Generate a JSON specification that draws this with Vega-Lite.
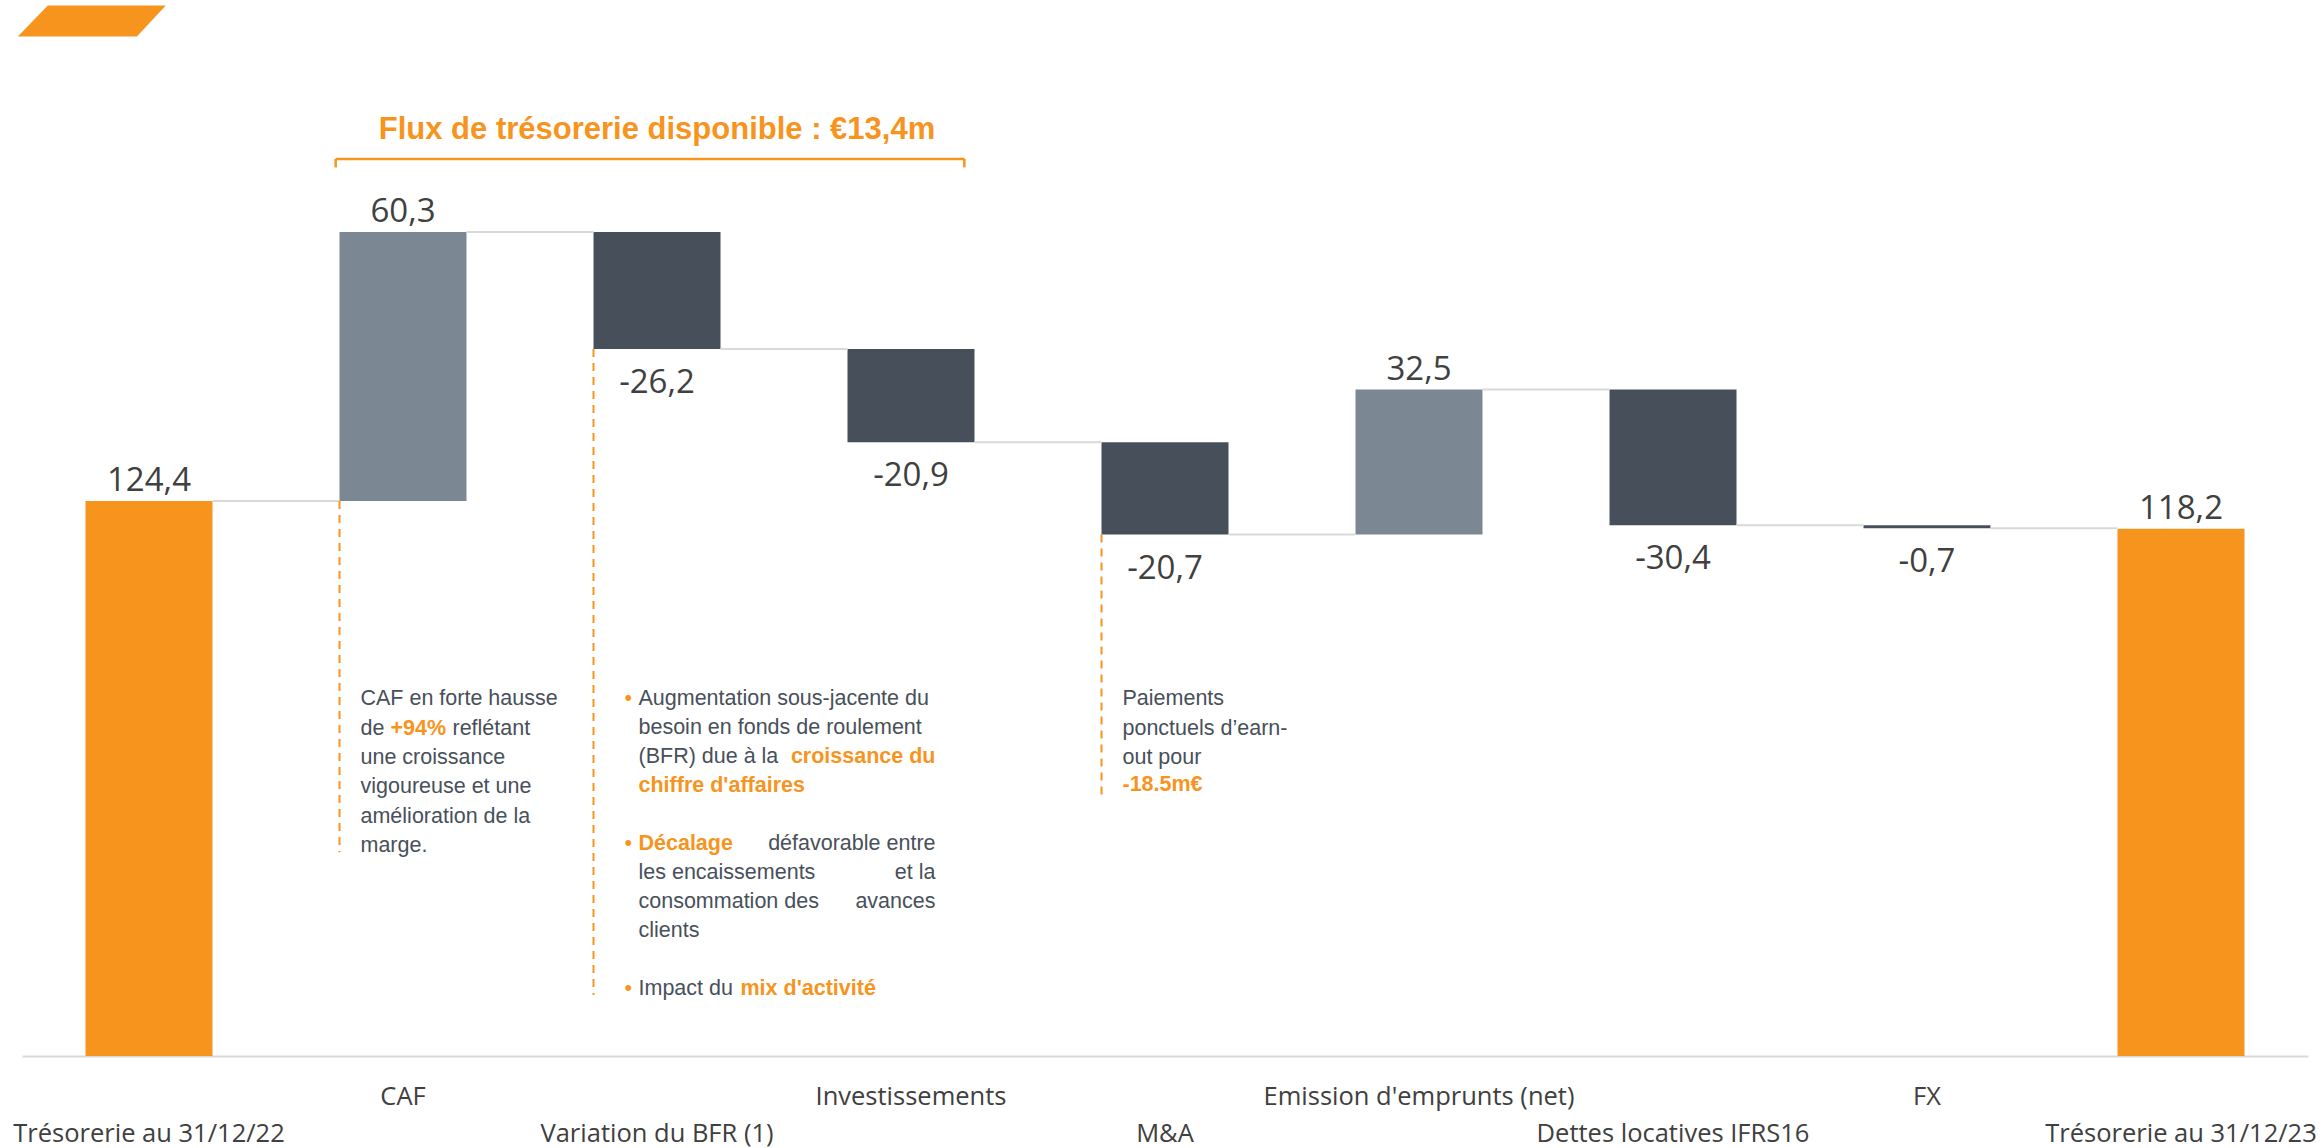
{
  "$schema": "https://vega.github.io/schema/vega-lite/v6.json",
  "width": 2286,
  "height": 1026,
  "autosize": {"type": "none"},
  "padding": {"left": 22, "top": 30, "right": 15, "bottom": 92},
  "background": "white",
  "config": {"view": {"stroke": null}},
  "datasets": {
    "flow": [
      {"cat": "Trésorerie au 31/12/22", "start": 0, "end": 124.4, "kind": "total", "label": "124,4", "next": "CAF"},
      {"cat": "CAF", "start": 124.4, "end": 184.7, "kind": "up", "label": "60,3", "next": "Variation du BFR (1)"},
      {"cat": "Variation du BFR (1)", "start": 184.7, "end": 158.5, "kind": "down", "label": "-26,2", "next": "Investissements"},
      {"cat": "Investissements", "start": 158.5, "end": 137.6, "kind": "down", "label": "-20,9", "next": "M&A"},
      {"cat": "M&A", "start": 137.6, "end": 116.9, "kind": "down", "label": "-20,7", "next": "Emission d'emprunts (net)"},
      {"cat": "Emission d'emprunts (net)", "start": 116.9, "end": 149.4, "kind": "up", "label": "32,5", "next": "Dettes locatives IFRS16"},
      {"cat": "Dettes locatives IFRS16", "start": 149.4, "end": 119.0, "kind": "down", "label": "-30,4", "next": "FX"},
      {"cat": "FX", "start": 119.0, "end": 118.3, "kind": "down", "label": "-0,7", "next": "Trésorerie au 31/12/23"},
      {"cat": "Trésorerie au 31/12/23", "start": 0, "end": 118.2, "kind": "total", "label": "118,2", "next": null}
    ],
    "leaders": [
      {"anchor": "CAF", "from": 124.4, "to": 45.7},
      {"anchor": "Variation du BFR (1)", "from": 158.5, "to": 13.7},
      {"anchor": "M&A", "from": 116.9, "to": 57.4}
    ],
    "notes": [
      {"anchor": "CAF", "piece": "g21", "lines": ["CAF en forte hausse", "de", "une croissance", "vigoureuse et une", "amélioration de la", "marge."]},
      {"anchor": "CAF", "piece": "o94", "lines": "+94%"},
      {"anchor": "CAF", "piece": "gref", "lines": "reflétant"},
      {"anchor": "M&A", "piece": "g21", "lines": ["Paiements", "ponctuels d’earn-", "out pour"]},
      {"anchor": "M&A", "piece": "o185", "lines": "-18.5m€"},
      {"anchor": "Variation du BFR (1)", "piece": "b0", "lines": "•"},
      {"anchor": "Variation du BFR (1)", "piece": "b5", "lines": "•"},
      {"anchor": "Variation du BFR (1)", "piece": "b10", "lines": "•"},
      {"anchor": "Variation du BFR (1)", "piece": "g45a", "lines": ["Augmentation sous-jacente du", "besoin en fonds de roulement", "(BFR) due à la"]},
      {"anchor": "Variation du BFR (1)", "piece": "g45b", "lines": ["les encaissements", "consommation des", "clients"]},
      {"anchor": "Variation du BFR (1)", "piece": "g45c", "lines": "Impact du"},
      {"anchor": "Variation du BFR (1)", "piece": "oR2", "lines": "croissance du"},
      {"anchor": "Variation du BFR (1)", "piece": "o45a", "lines": "chiffre d'affaires"},
      {"anchor": "Variation du BFR (1)", "piece": "o45b", "lines": "Décalage"},
      {"anchor": "Variation du BFR (1)", "piece": "gR5", "lines": ["défavorable entre", "et la", "avances"]},
      {"anchor": "Variation du BFR (1)", "piece": "omix", "lines": "mix d'activité"}
    ]
  },
  "layer": [
    {
      "data": {"name": "flow"},
      "mark": {"type": "bar"},
      "encoding": {
        "x": {
          "field": "cat", "type": "nominal", "sort": null,
          "scale": {"domain": ["Trésorerie au 31/12/22", "CAF", "Variation du BFR (1)", "Investissements", "M&A", "Emission d'emprunts (net)", "Dettes locatives IFRS16", "FX", "Trésorerie au 31/12/23"], "paddingInner": 0.5, "paddingOuter": 0.25},
          "axis": {
            "title": null, "domainColor": "#D9D9D9", "domainWidth": 2, "ticks": false, "labelAngle": 0,
            "labelFont": "Open Sans", "labelFontSize": 25.5, "labelColor": "#404040", "labelPadding": 28,
            "labelLineHeight": 37, "labelOverlap": false, "labelBound": false, "labelLimit": 0, "labelBaseline": "top",
            "labelExpr": "indexof([\"CAF\", \"Investissements\", \"Emission d'emprunts (net)\", \"FX\"], datum.value) >= 0 ? [datum.label, '\u00a0'] : ['\u00a0', datum.label]"
          }
        },
        "y": {"field": "start", "type": "quantitative", "scale": {"domain": [0, 230], "nice": false, "zero": false}, "axis": null},
        "y2": {"field": "end"},
        "color": {"field": "kind", "type": "nominal", "scale": {"domain": ["total", "up", "down"], "range": ["#F7941D", "#7B8793", "#47505A"]}, "legend": null}
      }
    },
    {
      "data": {"name": "flow"},
      "transform": [{"filter": "datum.next != null"}],
      "mark": {"type": "rule", "stroke": "#D9D9D9", "strokeWidth": 2},
      "encoding": {
        "x": {"field": "cat", "type": "nominal", "bandPosition": 1},
        "x2": {"field": "next", "bandPosition": 0},
        "y": {"field": "end", "type": "quantitative"}
      }
    },
    {
      "data": {"name": "flow"},
      "transform": [{"filter": "datum.kind != 'down'"}],
      "mark": {"type": "text", "align": "center", "baseline": "alphabetic", "dy": -10, "font": "Open Sans", "fontSize": 33, "fill": "#404040"},
      "encoding": {
        "x": {"field": "cat", "type": "nominal"},
        "y": {"field": "end", "type": "quantitative"},
        "text": {"field": "label"}
      }
    },
    {
      "data": {"name": "flow"},
      "transform": [{"filter": "datum.kind == 'down'"}],
      "mark": {"type": "text", "align": "center", "baseline": "alphabetic", "dy": 44, "font": "Open Sans", "fontSize": 33, "fill": "#404040"},
      "encoding": {
        "x": {"field": "cat", "type": "nominal"},
        "y": {"field": "end", "type": "quantitative"},
        "text": {"field": "label"}
      }
    },
    {
      "data": {"name": "leaders"},
      "mark": {"type": "rule", "stroke": "#F7941D", "strokeWidth": 2, "strokeDash": [8, 6]},
      "encoding": {
        "x": {"field": "anchor", "type": "nominal", "bandPosition": 0},
        "y": {"field": "from", "type": "quantitative"},
        "y2": {"field": "to"}
      }
    },
    {
      "data": {"values": [{"k": "bracket"}]},
      "mark": {"type": "rule", "stroke": "#F7941D", "strokeWidth": 2.5},
      "encoding": {
        "x": {"datum": "CAF", "type": "nominal", "bandPosition": -0.03},
        "x2": {"datum": "Investissements", "bandPosition": 0.92},
        "y": {"datum": 201.1, "type": "quantitative"}
      }
    },
    {
      "data": {"values": [{"k": "bracket"}]},
      "mark": {"type": "rule", "stroke": "#F7941D", "strokeWidth": 2.5},
      "encoding": {
        "x": {"datum": "CAF", "type": "nominal", "bandPosition": -0.03},
        "y": {"datum": 201.1, "type": "quantitative"},
        "y2": {"datum": 199.2}
      }
    },
    {
      "data": {"values": [{"k": "bracket"}]},
      "mark": {"type": "rule", "stroke": "#F7941D", "strokeWidth": 2.5},
      "encoding": {
        "x": {"datum": "Investissements", "type": "nominal", "bandPosition": 0.92},
        "y": {"datum": 201.1, "type": "quantitative"},
        "y2": {"datum": 199.2}
      }
    },
    {
      "data": {"values": [{"t": "Flux de trésorerie disponible : €13,4m"}]},
      "mark": {"type": "text", "align": "center", "baseline": "alphabetic", "font": "Liberation Sans", "fontWeight": "bold", "fontSize": 31, "fill": "#F7941D"},
      "encoding": {
        "x": {"datum": "Variation du BFR (1)", "type": "nominal"},
        "y": {"datum": 205.6, "type": "quantitative"},
        "text": {"field": "t"}
      }
    },
    {
      "data": {"values": [{"k": "logo"}]},
      "mark": {"type": "point", "filled": true, "opacity": 1, "strokeWidth": 0, "color": "#F7941D", "shape": "M -0.595 -0.209 L 1 -0.209 L 0.608 0.209 L -1 0.209 Z", "size": 21904},
      "encoding": {
        "x": {"datum": "Trésorerie au 31/12/22", "type": "nominal", "bandPosition": 0.05},
        "y": {"datum": 232, "type": "quantitative"}
      }
    },
    {
      "data": {"name": "notes"},
      "transform": [{"filter": "datum.piece == 'g21'"}],
      "mark": {"type": "text", "align": "left", "baseline": "alphabetic", "dx": 21, "dy": 0, "lineHeight": 29.3, "font": "Liberation Sans", "fontSize": 21.5, "fill": "#48505A"},
      "encoding": {"x": {"field": "anchor", "type": "nominal", "bandPosition": 0}, "y": {"datum": 78.6, "type": "quantitative"}, "text": {"field": "lines"}}
    },
    {
      "data": {"name": "notes"},
      "transform": [{"filter": "datum.piece == 'o94'"}],
      "mark": {"type": "text", "align": "left", "baseline": "alphabetic", "dx": 51, "dy": 29.3, "font": "Liberation Sans", "fontWeight": "bold", "fontSize": 21.5, "fill": "#F7941D"},
      "encoding": {"x": {"field": "anchor", "type": "nominal", "bandPosition": 0}, "y": {"datum": 78.6, "type": "quantitative"}, "text": {"field": "lines"}}
    },
    {
      "data": {"name": "notes"},
      "transform": [{"filter": "datum.piece == 'gref'"}],
      "mark": {"type": "text", "align": "left", "baseline": "alphabetic", "dx": 113, "dy": 29.3, "font": "Liberation Sans", "fontSize": 21.5, "fill": "#48505A"},
      "encoding": {"x": {"field": "anchor", "type": "nominal", "bandPosition": 0}, "y": {"datum": 78.6, "type": "quantitative"}, "text": {"field": "lines"}}
    },
    {
      "data": {"name": "notes"},
      "transform": [{"filter": "datum.piece == 'o185'"}],
      "mark": {"type": "text", "align": "left", "baseline": "alphabetic", "dx": 21, "dy": 86, "font": "Liberation Sans", "fontWeight": "bold", "fontSize": 21.5, "fill": "#F7941D"},
      "encoding": {"x": {"field": "anchor", "type": "nominal", "bandPosition": 0}, "y": {"datum": 78.6, "type": "quantitative"}, "text": {"field": "lines"}}
    },
    {
      "data": {"name": "notes"},
      "transform": [{"filter": "datum.piece == 'b0'"}],
      "mark": {"type": "text", "align": "left", "baseline": "alphabetic", "dx": 31, "dy": 0, "font": "Liberation Sans", "fontSize": 21.5, "fill": "#F7941D"},
      "encoding": {"x": {"field": "anchor", "type": "nominal", "bandPosition": 0}, "y": {"datum": 78.6, "type": "quantitative"}, "text": {"field": "lines"}}
    },
    {
      "data": {"name": "notes"},
      "transform": [{"filter": "datum.piece == 'b5'"}],
      "mark": {"type": "text", "align": "left", "baseline": "alphabetic", "dx": 31, "dy": 145, "font": "Liberation Sans", "fontSize": 21.5, "fill": "#F7941D"},
      "encoding": {"x": {"field": "anchor", "type": "nominal", "bandPosition": 0}, "y": {"datum": 78.6, "type": "quantitative"}, "text": {"field": "lines"}}
    },
    {
      "data": {"name": "notes"},
      "transform": [{"filter": "datum.piece == 'b10'"}],
      "mark": {"type": "text", "align": "left", "baseline": "alphabetic", "dx": 31, "dy": 290, "font": "Liberation Sans", "fontSize": 21.5, "fill": "#F7941D"},
      "encoding": {"x": {"field": "anchor", "type": "nominal", "bandPosition": 0}, "y": {"datum": 78.6, "type": "quantitative"}, "text": {"field": "lines"}}
    },
    {
      "data": {"name": "notes"},
      "transform": [{"filter": "datum.piece == 'g45a'"}],
      "mark": {"type": "text", "align": "left", "baseline": "alphabetic", "dx": 45, "dy": 0, "lineHeight": 29, "font": "Liberation Sans", "fontSize": 21.5, "fill": "#48505A"},
      "encoding": {"x": {"field": "anchor", "type": "nominal", "bandPosition": 0}, "y": {"datum": 78.6, "type": "quantitative"}, "text": {"field": "lines"}}
    },
    {
      "data": {"name": "notes"},
      "transform": [{"filter": "datum.piece == 'g45b'"}],
      "mark": {"type": "text", "align": "left", "baseline": "alphabetic", "dx": 45, "dy": 174, "lineHeight": 29, "font": "Liberation Sans", "fontSize": 21.5, "fill": "#48505A"},
      "encoding": {"x": {"field": "anchor", "type": "nominal", "bandPosition": 0}, "y": {"datum": 78.6, "type": "quantitative"}, "text": {"field": "lines"}}
    },
    {
      "data": {"name": "notes"},
      "transform": [{"filter": "datum.piece == 'g45c'"}],
      "mark": {"type": "text", "align": "left", "baseline": "alphabetic", "dx": 45, "dy": 290, "font": "Liberation Sans", "fontSize": 21.5, "fill": "#48505A"},
      "encoding": {"x": {"field": "anchor", "type": "nominal", "bandPosition": 0}, "y": {"datum": 78.6, "type": "quantitative"}, "text": {"field": "lines"}}
    },
    {
      "data": {"name": "notes"},
      "transform": [{"filter": "datum.piece == 'oR2'"}],
      "mark": {"type": "text", "align": "right", "baseline": "alphabetic", "dx": 342, "dy": 58, "font": "Liberation Sans", "fontWeight": "bold", "fontSize": 21.5, "fill": "#F7941D"},
      "encoding": {"x": {"field": "anchor", "type": "nominal", "bandPosition": 0}, "y": {"datum": 78.6, "type": "quantitative"}, "text": {"field": "lines"}}
    },
    {
      "data": {"name": "notes"},
      "transform": [{"filter": "datum.piece == 'o45a'"}],
      "mark": {"type": "text", "align": "left", "baseline": "alphabetic", "dx": 45, "dy": 87, "font": "Liberation Sans", "fontWeight": "bold", "fontSize": 21.5, "fill": "#F7941D"},
      "encoding": {"x": {"field": "anchor", "type": "nominal", "bandPosition": 0}, "y": {"datum": 78.6, "type": "quantitative"}, "text": {"field": "lines"}}
    },
    {
      "data": {"name": "notes"},
      "transform": [{"filter": "datum.piece == 'o45b'"}],
      "mark": {"type": "text", "align": "left", "baseline": "alphabetic", "dx": 45, "dy": 145, "font": "Liberation Sans", "fontWeight": "bold", "fontSize": 21.5, "fill": "#F7941D"},
      "encoding": {"x": {"field": "anchor", "type": "nominal", "bandPosition": 0}, "y": {"datum": 78.6, "type": "quantitative"}, "text": {"field": "lines"}}
    },
    {
      "data": {"name": "notes"},
      "transform": [{"filter": "datum.piece == 'gR5'"}],
      "mark": {"type": "text", "align": "right", "baseline": "alphabetic", "dx": 342, "dy": 145, "lineHeight": 29, "font": "Liberation Sans", "fontSize": 21.5, "fill": "#48505A"},
      "encoding": {"x": {"field": "anchor", "type": "nominal", "bandPosition": 0}, "y": {"datum": 78.6, "type": "quantitative"}, "text": {"field": "lines"}}
    },
    {
      "data": {"name": "notes"},
      "transform": [{"filter": "datum.piece == 'omix'"}],
      "mark": {"type": "text", "align": "left", "baseline": "alphabetic", "dx": 147, "dy": 290, "font": "Liberation Sans", "fontWeight": "bold", "fontSize": 21.5, "fill": "#F7941D"},
      "encoding": {"x": {"field": "anchor", "type": "nominal", "bandPosition": 0}, "y": {"datum": 78.6, "type": "quantitative"}, "text": {"field": "lines"}}
    }
  ]
}
